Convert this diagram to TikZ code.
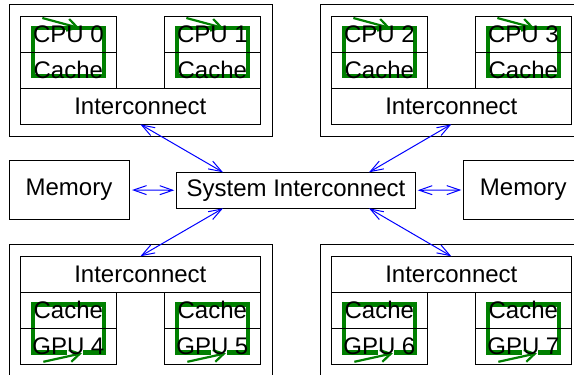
\documentclass[tikz,border=0pt]{standalone}
\usepackage{fontspec}
\setmainfont{Liberation Sans}
\usetikzlibrary{arrows.meta,calc}
\definecolor{loopgreen}{RGB}{0,128,0}
\tikzset{
  box/.style={draw=black, line width=0.5pt, inner sep=0pt, outer sep=0pt, minimum width=47.65pt, minimum height=18pt, font=\fontsize{12}{14}\selectfont},
  wide/.style={box, minimum width=119.65pt},
  outerbox/.style={draw=black, line width=0.5pt, inner sep=0pt, outer sep=0pt, minimum width=131.5pt, minimum height=65.75pt},
  membox/.style={box, minimum width=60pt, minimum height=29.75pt},
  link/.style={draw=blue, line width=0.5pt, {Straight Barb[length=6.5pt,width=4.5pt]}-{Straight Barb[length=6.5pt,width=4.5pt]}},
  loopthick/.style={draw=loopgreen, line width=2.3pt},
  loopthin/.style={draw=loopgreen, line width=1.1pt, -{Straight Barb[length=5pt,width=6pt]}},
  lbl/.style={font=\fontsize{12}{14}\selectfont},
}
\begin{document}
\begin{tikzpicture}[x=0.5pt,y=-0.5pt]
\useasboundingbox (0,0) rectangle (574,375);
% outer containers
\node[outerbox] (otl) at (140.5,70.25) {};
\node[outerbox] (otr) at (451.5,70.25) {};
\node[outerbox] (obl) at (140.5,310) {};
\node[outerbox] (obr) at (451.5,310) {};
% top-left group
\node[box] (cpu0) at (68.35,34.3) {};
\node[box] (cache0) at (68.35,70.3) {};
\node[box] (cpu1) at (212.35,34.3) {};
\node[box] (cache1) at (212.35,70.3) {};
\node[wide] (ictl) at (140.35,106.3) {Interconnect};
% top-right group
\node[box] (cpu2) at (379.35,34.3) {};
\node[box] (cache2) at (379.35,70.3) {};
\node[box] (cpu3) at (523.35,34.3) {};
\node[box] (cache3) at (523.35,70.3) {};
\node[wide] (ictr) at (451.35,106.3) {Interconnect};
% bottom-left group
\node[wide] (icbl) at (140.35,274.3) {Interconnect};
\node[box] (cache4) at (68.35,310.3) {};
\node[box] (gpu4) at (68.35,346.2) {};
\node[box] (cache5) at (212.35,310.3) {};
\node[box] (gpu5) at (212.35,346.2) {};
% bottom-right group
\node[wide] (icbr) at (451.35,274.3) {Interconnect};
\node[box] (cache6) at (379.35,310.3) {};
\node[box] (gpu6) at (379.35,346.2) {};
\node[box] (cache7) at (523.35,310.3) {};
\node[box] (gpu7) at (523.35,346.2) {};
% green loops (top)
\foreach \n in {cpu0,cpu1,cpu2,cpu3}{
  \draw[loopthick] ($(\n.south)+(-35.5,-24.3)$) rectangle ($(\n.south)+(35.5,23.7)$);
  \draw[loopthin] ($(\n.south)+(-26,-34.3)$) -- ($(\n.south)+(11,-24.3)$);
}
% green loops (bottom)
\foreach \n in {cache4,cache5,cache6,cache7}{
  \draw[loopthick] ($(\n.south)+(-1.5,24)$) -- ($(\n.south)+(-35.5,24)$) -- ($(\n.south)+(-35.5,-24)$) -- ($(\n.south)+(35.5,-24)$) -- ($(\n.south)+(35.5,24)$) -- ($(\n.south)+(14.5,24)$);
  \draw[loopthin] ($(\n.south)+(-25,33.5)$) -- ($(\n.south)+(13.5,25)$);
}
% labels over loops
\node[lbl] (l0) at (cpu0) {CPU 0};
\node[lbl] (l1) at (cpu1) {CPU 1};
\node[lbl] (l2) at (cpu2) {CPU 2};
\node[lbl] (l3) at (cpu3) {CPU 3};
\foreach \n in {cache0,cache1,cache2,cache3,cache4,cache5,cache6,cache7}{
  \node[lbl] at (\n) {Cache};
}
\node[lbl] (l4) at (gpu4) {GPU 4};
\node[lbl] (l5) at (gpu5) {GPU 5};
\node[lbl] (l6) at (gpu6) {GPU 6};
\node[lbl] (l7) at (gpu7) {GPU 7};
% redraw box borders over green
\foreach \n in {cpu0,cache0,cpu1,cache1,cpu2,cache2,cpu3,cache3,cache4,gpu4,cache5,gpu5,cache6,gpu6,cache7,gpu7}{
  \draw[line width=0.5pt] (\n.north west) rectangle (\n.south east);
}
% middle row
\node[membox] (meml) at (69,190) {Memory};
\node[membox] (memr) at (523.3,190) {Memory};
\node[box, minimum width=119.7pt] (si) at (296,190.3) {System Interconnect};
% connectors
\draw[link, shorten <=1.5pt, shorten >=1pt] (meml.east) -- (si.west);
\draw[link, shorten <=1pt, shorten >=1pt] (si.east) -- (memr.west);
\draw[link] (ictl.south) -- ($(si.north)+(-73,0)$);
\draw[link] (ictr.south) -- ($(si.north)+(73,0)$);
\draw[link] ($(si.south)+(-73,0)$) -- (icbl.north);
\draw[link] ($(si.south)+(73,0)$) -- (icbr.north);
\end{tikzpicture}
\end{document}
